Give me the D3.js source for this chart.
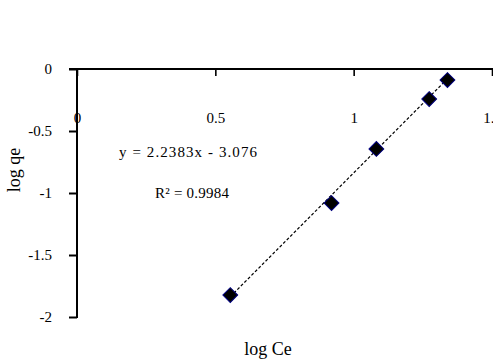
<!DOCTYPE html>
<html>
<head>
<meta charset="utf-8">
<script src="https://cdn.jsdelivr.net/npm/d3@7"></script>
<style>
html,body{margin:0;padding:0;background:#fff;}
svg{display:block;}
text{font-family:"Liberation Serif","Times New Roman",serif;}
</style>
</head>
<body>
<svg id="chart" width="493" height="363"></svg>
<script>
// Data
const logCe = [0.554, 0.920, 1.082, 1.273, 1.339];
const logQe = [-1.823, -1.081, -0.645, -0.242, -0.089];
const xTicks = [0, 0.5, 1, 1.5];
const yTicks = [0, -0.5, -1, -1.5, -2];
const slope = 2.2383, intercept = -3.076;
const eqLabel = "y = 2.2383x - 3.076";
const r2Label = "R\u00B2 = 0.9984";

const svg = d3.select("#chart");
const fmt = d => String(d);

const x = d3.scaleLinear().domain([0,1.5]).range([77,492]);
const y = d3.scaleLinear().domain([-2,0]).range([317,69]);

// X axis (at top, y=0)
const xAxis = svg.append("g").attr("transform",`translate(0,${y(0)})`)
  .call(d3.axisBottom(x).tickValues(xTicks).tickSize(7).tickPadding(36).tickSizeOuter(0).tickFormat(fmt));
xAxis.select(".domain").remove();
xAxis.attr("font-family",null);
xAxis.selectAll("line").attr("stroke","#000").attr("stroke-width",1.6);
xAxis.selectAll("text").attr("font-size",15).attr("fill","#000");
svg.append("line").attr("x1",69).attr("x2",493).attr("y1",y(0)).attr("y2",y(0))
  .attr("stroke","#000").attr("stroke-width",2);

// Y axis
const yAxis = svg.append("g").attr("transform",`translate(${x(0)},0)`)
  .call(d3.axisLeft(y).tickValues(yTicks).tickSize(8).tickPadding(17).tickSizeOuter(0).tickFormat(fmt));
yAxis.select(".domain").remove();
yAxis.attr("font-family",null);
yAxis.selectAll("line").attr("stroke","#000").attr("stroke-width",2);
yAxis.selectAll("text").attr("font-size",15).attr("fill","#000");
svg.append("line").attr("x1",x(0)).attr("x2",x(0)).attr("y1",y(0)-1).attr("y2",y(-2)+1)
  .attr("stroke","#000").attr("stroke-width",2);

// trendline
const x0 = d3.min(logCe), x1 = d3.max(logCe);
svg.append("line")
  .attr("x1",x(x0)).attr("y1",y(slope*x0+intercept))
  .attr("x2",x(x1)).attr("y2",y(slope*x1+intercept))
  .attr("stroke","#000").attr("stroke-width",1.2).attr("stroke-dasharray","3,2");

// points
svg.append("g").selectAll("path").data(logCe).join("path")
  .attr("d",d3.symbol(d3.symbolSquare,110))
  .attr("transform",(d,i)=>`translate(${x(d)},${y(logQe[i])}) rotate(45)`)
  .attr("fill","#000").attr("stroke","#000080").attr("stroke-width",1);

// annotations
svg.append("text").attr("x",119).attr("y",157).attr("font-size",15).attr("fill","#000")
  .attr("textLength",138).attr("lengthAdjust","spacing").text(eqLabel);
svg.append("text").attr("x",155).attr("y",198).attr("font-size",15).attr("fill","#000")
  .attr("textLength",74).attr("lengthAdjust","spacing").text(r2Label);

// axis titles
svg.append("text").attr("x",268).attr("y",355).attr("text-anchor","middle").attr("font-size",18).attr("fill","#000").text("log Ce");
svg.append("text").attr("transform","translate(20,170) rotate(-90)").attr("text-anchor","middle").attr("font-size",18).attr("fill","#000").text("log qe");
</script>
</body>
</html>
